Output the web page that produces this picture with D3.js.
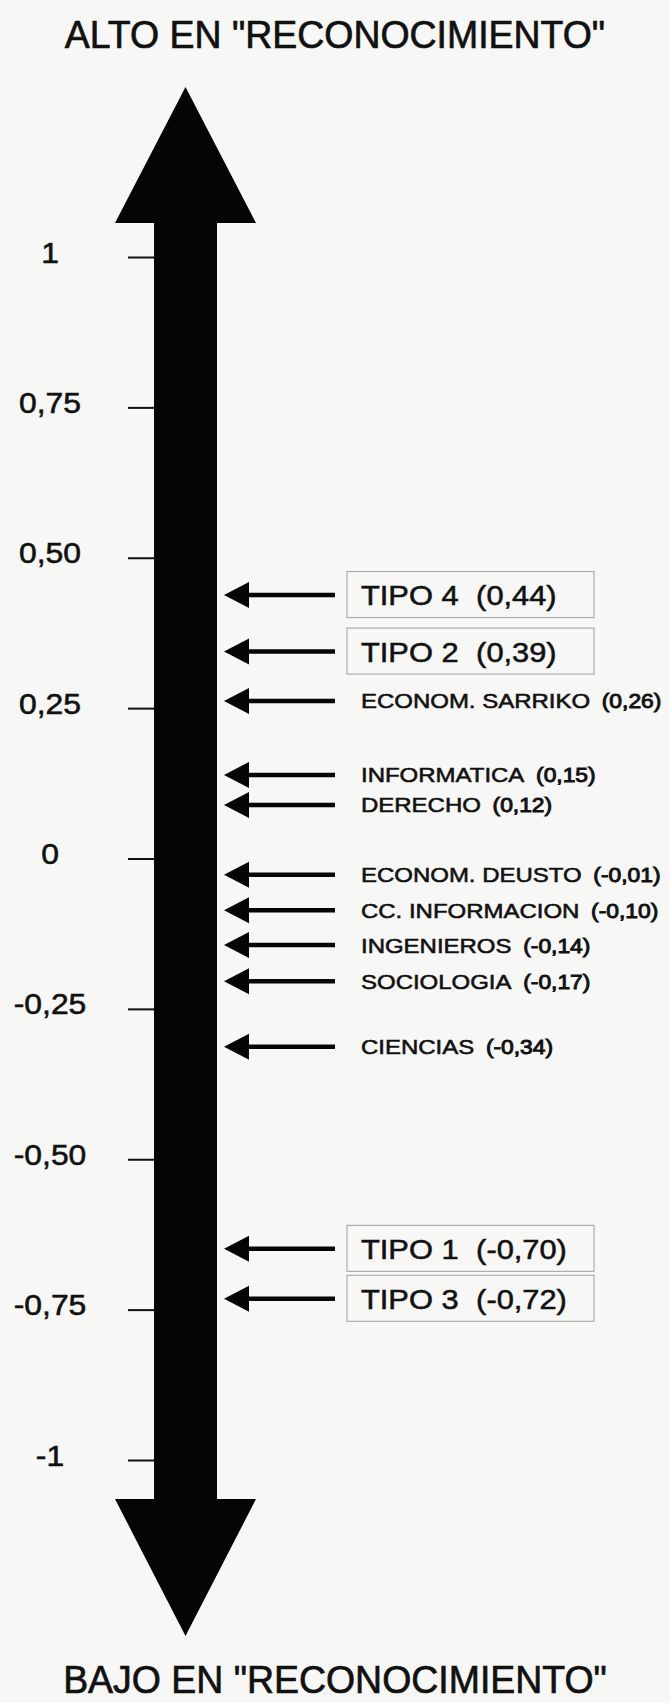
<!DOCTYPE html>
<html>
<head>
<meta charset="utf-8">
<script src="https://cdnjs.cloudflare.com/ajax/libs/d3/7.8.5/d3.min.js"></script>
<style>
  html, body { margin: 0; padding: 0; background: #f7f7f5; }
  svg { display: block; }
  text { font-family: "Liberation Sans", Arial, Helvetica, sans-serif; fill: #111; stroke: #111; stroke-width: 0.55px; }
</style>
</head>
<body>
<div id="chart"></div>
<script>
// ---- data ----
const tickValues = [1, 0.75, 0.5, 0.25, 0, -0.25, -0.5, -0.75, -1];
const tickLabels = ["1", "0,75", "0,50", "0,25", "0", "-0,25", "-0,50", "-0,75", "-1"];

const itemNames = ["TIPO 4", "TIPO 2", "ECONOM. SARRIKO", "INFORMATICA", "DERECHO",
  "ECONOM. DEUSTO", "CC. INFORMACION", "INGENIEROS", "SOCIOLOGIA", "CIENCIAS",
  "TIPO 1", "TIPO 3"];
const itemValues = [0.44, 0.39, 0.26, 0.15, 0.12, -0.01, -0.10, -0.14, -0.17, -0.34, -0.70, -0.72];
const itemValueLabels = ["(0,44)", "(0,39)", "(0,26)", "(0,15)", "(0,12)", "(-0,01)",
  "(-0,10)", "(-0,14)", "(-0,17)", "(-0,34)", "(-0,70)", "(-0,72)"];
// position where each arrow is drawn on the scale
const arrowPositions = [0.438, 0.344, 0.262, 0.139, 0.089, -0.027, -0.086, -0.144, -0.204, -0.313, -0.649, -0.732];
const itemIsType = [true, true, false, false, false, false, false, false, false, false, true, true];

const topTitle = 'ALTO EN "RECONOCIMIENTO"';
const bottomTitle = 'BAJO EN "RECONOCIMIENTO"';

// ---- layout ----
const W = 670, H = 1703;
const svg = d3.select("#chart").append("svg").attr("width", W).attr("height", H);
svg.append("rect").attr("width", W).attr("height", H).attr("fill", "#f7f7f5");

const y = d3.scaleLinear().domain([-1, 1]).range([1460, 257]);

const shaftL = 154, shaftR = 217, cx = (shaftL + shaftR) / 2;
const headL = 115, headR = 256;

// big double arrow
const topBase = y(1) - 34, topTip = y(1) - 170;
const botBase = y(-1) + 39, botTip = y(-1) + 176;
svg.append("path")
  .attr("d", `M${cx},${topTip} L${headR},${topBase} L${shaftR},${topBase} L${shaftR},${botBase} L${headR},${botBase} L${cx},${botTip} L${headL},${botBase} L${shaftL},${botBase} L${shaftL},${topBase} L${headL},${topBase} Z`)
  .attr("fill", "#050505");

// axis with ticks
const tickMap = new Map(tickValues.map((v, i) => [v, tickLabels[i]]));
const axis = d3.axisLeft(y).tickValues(tickValues).tickSize(26).tickFormat(d => tickMap.get(d));
const ag = svg.append("g").attr("transform", `translate(${shaftL},0)`).call(axis);
ag.select(".domain").remove();
ag.selectAll(".tick line").attr("stroke", "#111").attr("stroke-width", 2);
ag.selectAll(".tick text")
  .attr("x", 0).attr("dy", null).attr("y", 0)
  .attr("text-anchor", "middle")
  .attr("font-size", 29)
  .attr("font-family", null)
  .attr("fill", "#111")
  .attr("transform", `translate(${50 - shaftL},5) scale(1.1,1)`);

// titles
function title(txt, yb) {
  svg.append("text")
    .attr("transform", `translate(${W / 2},${yb}) scale(0.96,1)`)
    .attr("text-anchor", "middle")
    .attr("font-size", 39)
    .style("stroke-width", "0.7px")
    .text(txt);
}
title(topTitle, 48);
title(bottomTitle, 1693);

// item arrows and labels
const items = itemNames.map((n, i) => ({
  name: n, value: itemValues[i], vlabel: itemValueLabels[i],
  pos: arrowPositions[i], boxed: itemIsType[i]
}));

const tipX = 224, tailX = 335, headLen = 25, headHalf = 13;
const textX = 361;

const g = svg.selectAll("g.item").data(items).join("g").attr("class", "item");

g.append("line")
  .attr("x1", tipX + headLen - 3).attr("x2", tailX)
  .attr("y1", d => y(d.pos)).attr("y2", d => y(d.pos))
  .attr("stroke", "#050505").attr("stroke-width", 4.5);
g.append("path")
  .attr("d", d => `M${tipX},${y(d.pos)} L${tipX + headLen},${y(d.pos) - headHalf} L${tipX + headLen},${y(d.pos) + headHalf} Z`)
  .attr("fill", "#050505");

// boxes for TIPO items
g.filter(d => d.boxed).append("rect")
  .attr("x", 347).attr("width", 247)
  .attr("y", d => y(d.pos) - 23.5).attr("height", 46)
  .attr("fill", "none").attr("stroke", "#acacac").attr("stroke-width", 1.2);

// big labels
const bigT = g.filter(d => d.boxed).append("text")
  .attr("transform", d => `translate(${textX},${y(d.pos) + 10}) scale(1.1,1)`)
  .attr("font-size", 28);
bigT.append("tspan").text(d => d.name);
bigT.append("tspan").attr("dx", 16).text(d => d.vlabel);

// small labels
const smT = g.filter(d => !d.boxed).append("text")
  .attr("transform", d => `translate(${textX},${y(d.pos) + 7.5}) scale(1.17,1)`)
  .attr("font-size", 20.5);
smT.append("tspan").text(d => d.name);
smT.append("tspan").attr("dx", 10).attr("font-size", 19.5).style("stroke-width", "0.9px").text(d => d.vlabel);
</script>
</body>
</html>
